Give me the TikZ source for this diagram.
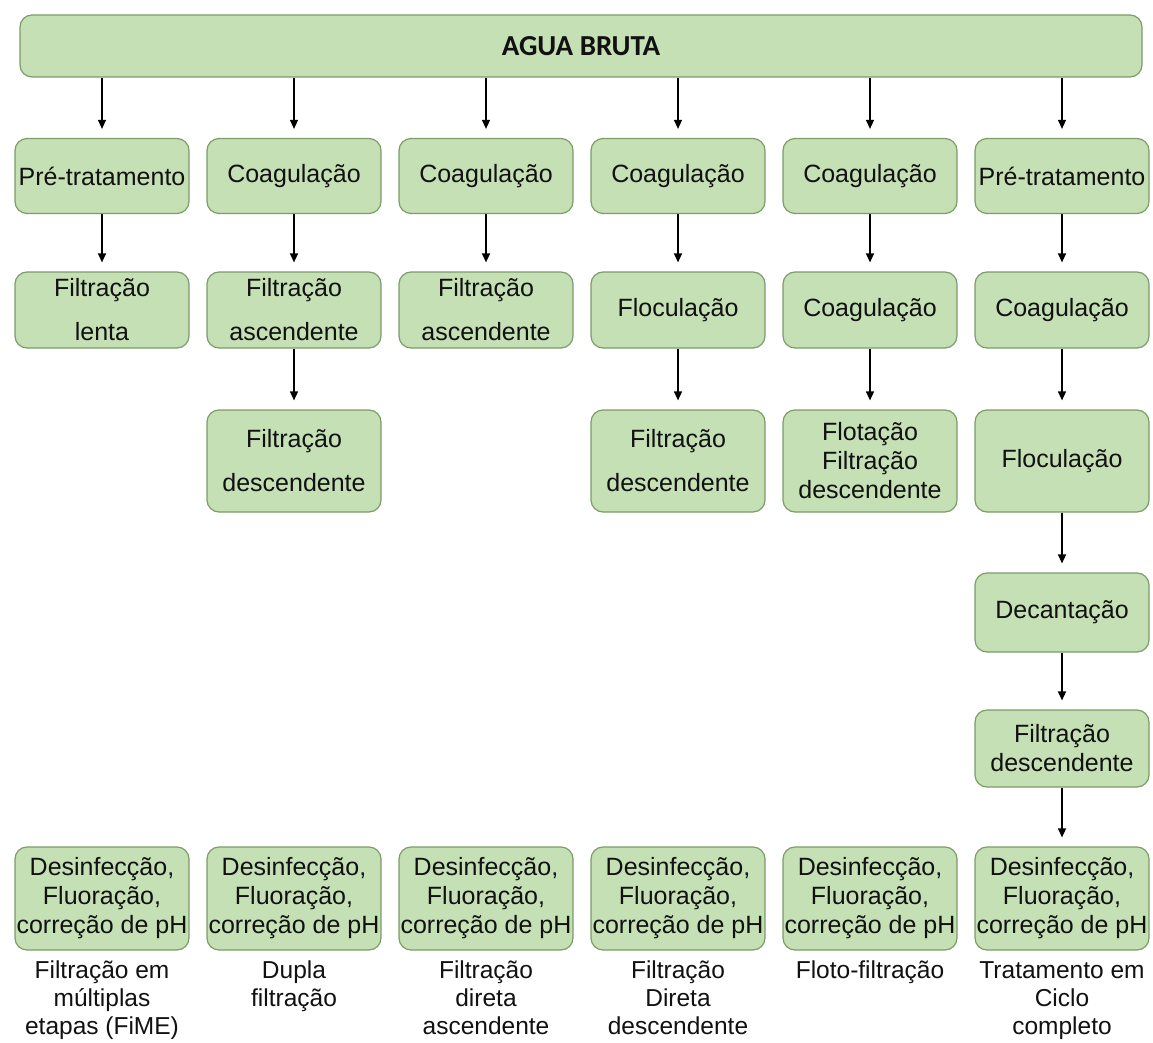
\documentclass[tikz,border=0pt]{standalone}
\usepackage{fontspec}
\setmainfont{Liberation Sans}
\newfontfamily\headfont{Carlito}
\usetikzlibrary{arrows.meta}
\definecolor{boxfill}{HTML}{C5E0B4}
\definecolor{boxline}{HTML}{7C9C68}
\definecolor{inkc}{HTML}{111111}
\begin{document}
\begin{tikzpicture}[x=1pt,y=-1pt,
  stage/.style={draw=boxline, fill=boxfill, rounded corners=12pt, line width=1.2pt,
    minimum width=174pt, inner sep=0pt, align=center, text=inkc,
    font=\fontsize{25}{29}\selectfont},
  rowa/.style={stage, minimum height=75pt},
  rowb/.style={stage, minimum height=76pt},
  rowc/.style={stage, minimum height=102pt},
  final/.style={stage, minimum height=103pt},
  caption/.style={anchor=north, align=center, inner sep=0pt, text=inkc,
    font=\fontsize{24.5}{28}\selectfont},
  flow/.style={-{Triangle[width=8pt,length=9pt]}, line width=1.3pt, draw=black,
    shorten >=9pt}
]
\useasboundingbox (0,0) rectangle (1153,1043);

% raw water source
\node[stage, minimum width=1122pt, minimum height=62pt, font=\headfont\bfseries\fontsize{29}{32}\selectfont]
  (src) at (581,46) {AGUA BRUTA};

% first stage row
\node[rowa] (a1) at (102,176) {Pré-tratamento};
\node[rowa] (a2) at (294,176) {Coagulação};
\node[rowa] (a3) at (486,176) {Coagulação};
\node[rowa] (a4) at (678,176) {Coagulação};
\node[rowa] (a5) at (870,176) {Coagulação};
\node[rowa] (a6) at (1062,176) {Pré-tratamento};

% second stage row
\node[rowb] (b1) at (102,310) {Filtração\\[15pt]lenta};
\node[rowb] (b2) at (294,310) {Filtração\\[15pt]ascendente};
\node[rowb] (b3) at (486,310) {Filtração\\[15pt]ascendente};
\node[rowb] (b4) at (678,310) {Floculação};
\node[rowb] (b5) at (870,310) {Coagulação};
\node[rowb] (b6) at (1062,310) {Coagulação};

% third stage row
\node[rowc] (c2) at (294,461) {Filtração\\[15pt]descendente};
\node[rowc] (c4) at (678,461) {Filtração\\[15pt]descendente};
\node[rowc] (c5) at (870,461) {Flotação\\Filtração\\descendente};
\node[rowc] (c6) at (1062,461) {Floculação};

% complete cycle extra stages
\node[stage, minimum height=79pt] (d6) at (1062,612.5) {Decantação};
\node[stage, minimum height=77pt] (e6) at (1062,748.5) {Filtração\\descendente};

% final treatment boxes
\foreach \i/\x in {1/102,2/294,3/486,4/678,5/870,6/1062}
  \node[final] (f\i) at (\x,898.5) {Desinfecção,\\Fluoração,\\correção de pH};

% technology names
\node[caption] (t1) at (102,961) {Filtração em\\múltiplas\\etapas (FiME)};
\node[caption] (t2) at (294,961) {Dupla\\filtração};
\node[caption] (t3) at (486,961) {Filtração\\direta\\ascendente};
\node[caption] (t4) at (678,961) {Filtração\\Direta\\descendente};
\node[caption] (t5) at (870,961) {Floto-filtração};
\node[caption] (t6) at (1062,961) {Tratamento em\\Ciclo\\completo};

% connectors
\foreach \i in {1,...,6}
  \draw[flow] (src.south -| a\i.north) -- (a\i.north);
\foreach \i in {1,...,6}
  \draw[flow] (a\i) -- (b\i);
\draw[flow] (b2) -- (c2);
\draw[flow] (b4) -- (c4);
\draw[flow] (b5) -- (c5);
\draw[flow] (b6) -- (c6);
\draw[flow] (c6) -- (d6);
\draw[flow] (d6) -- (e6);
\draw[flow] (e6) -- (f6);
\end{tikzpicture}
\end{document}
